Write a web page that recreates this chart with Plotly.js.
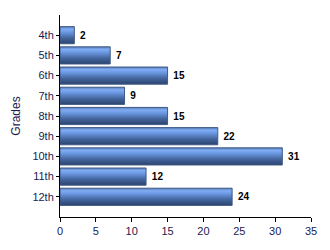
<!DOCTYPE html>
<html>
<head>
<meta charset="utf-8">
<script src="https://cdn.plot.ly/plotly-3.0.1.min.js"></script>
<style>html,body{margin:0;padding:0;background:#fff;}#chart{width:330px;height:250px;}</style>
</head>
<body>
<div id="chart"></div>
<script>
const grades = ["4th","5th","6th","7th","8th","9th","10th","11th","12th"];
const counts = [2, 7, 15, 9, 15, 22, 31, 12, 24];
const xTicks = [0, 5, 10, 15, 20, 25, 30, 35];

const trace = {
  type: "bar",
  orientation: "h",
  x: counts,
  y: grades,
  width: 0.85,
  marker: {color: "#5b86cc", line: {color: "#3f5a85", width: 1}},
  texttemplate: " <b>%{x}</b>",
  textposition: "outside",
  constraintext: "none",
  cliponaxis: false,
  textfont: {family: "Liberation Sans, Arial, sans-serif", size: 10, color: "#000"},
  hoverinfo: "none"
};

const layout = {
  width: 330, height: 250,
  margin: {l: 60, r: 19, t: 15, b: 33},
  paper_bgcolor: "#fff", plot_bgcolor: "#fff",
  showlegend: false,
  font: {family: "Liberation Sans, Arial, sans-serif", size: 11, color: "#000"},
  xaxis: {
    range: [0, 35], tickvals: xTicks, ticktext: xTicks.map(String),
    showgrid: false, zeroline: false, showline: true, linecolor: "#000", linewidth: 1,
    ticks: "outside", ticklen: 4, tickcolor: "#000", tickfont: {size: 11, color: "#1a1a50"}
  },
  yaxis: {
    type: "category", categoryorder: "array", categoryarray: grades,
    range: [9, -1],
    showgrid: false, zeroline: false, showline: true, linecolor: "#000", linewidth: 1,
    ticks: "outside", ticklen: 3, tickcolor: "#000", tickfont: {size: 11, color: "#1a1a50"},
    title: {text: "Grades", font: {size: 12, color: "#1a1a50"}, standoff: 9}
  }
};

Plotly.newPlot("chart", [trace], layout, {staticPlot: true}).then(function(gd){
  const svg = gd.querySelector("svg.main-svg");
  const ns = "http://www.w3.org/2000/svg";
  let defs = svg.querySelector("defs");
  if (!defs) { defs = document.createElementNS(ns, "defs"); svg.insertBefore(defs, svg.firstChild); }
  const g = document.createElementNS(ns, "linearGradient");
  g.setAttribute("id", "barGrad");
  g.setAttribute("x1", "0"); g.setAttribute("y1", "0");
  g.setAttribute("x2", "0"); g.setAttribute("y2", "1");
  [["0", "#5a7db8"], ["0.15", "#80acf4"], ["0.3", "#6e9be6"], ["0.65", "#44679f"], ["1", "#2b436e"]].forEach(function(s){
    const st = document.createElementNS(ns, "stop");
    st.setAttribute("offset", s[0]); st.setAttribute("stop-color", s[1]);
    g.appendChild(st);
  });
  defs.appendChild(g);
  gd.querySelectorAll(".trace.bars .point path").forEach(function(p){
    p.style.fill = "url(#barGrad)";
  });
});
</script>
</body>
</html>
